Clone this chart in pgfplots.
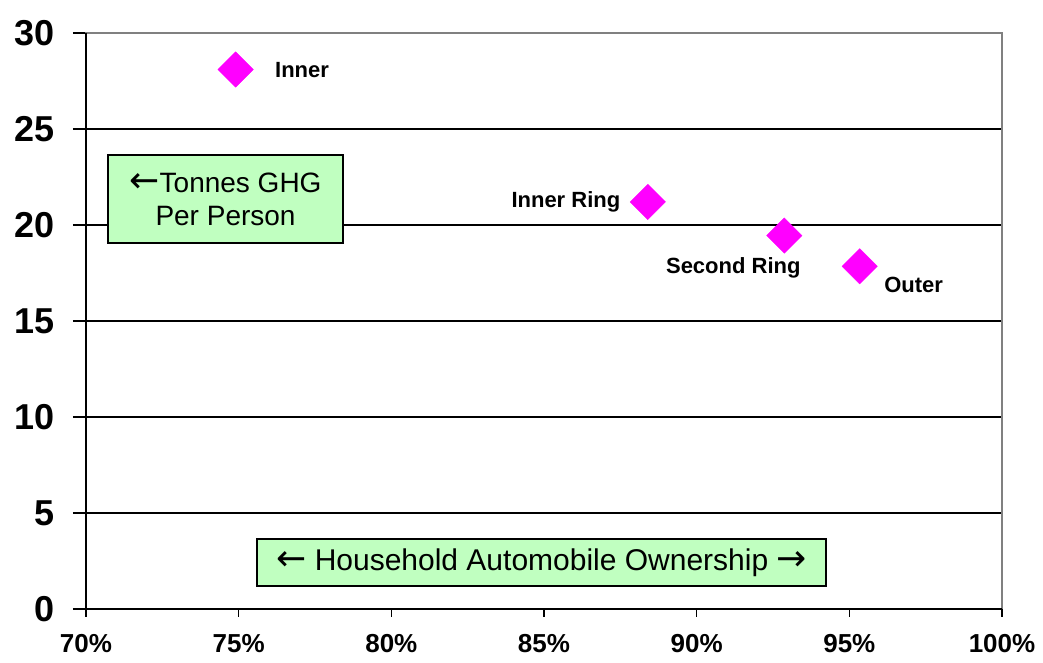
\documentclass[border=0pt]{standalone}
\usepackage{pgfplots}
\pgfplotsset{compat=1.18}
\usepackage{fontspec}
\setmainfont{Liberation Sans}
\newfontfamily\arrowfont{DejaVu Sans}
\newcommand{\la}{{\arrowfont\fontsize{36}{36}\selectfont\char"2190}}
\newcommand{\ra}{{\arrowfont\fontsize{36}{36}\selectfont\char"2192}}
\definecolor{boxgreen}{RGB}{192,255,192}
\definecolor{mag}{RGB}{255,0,255}
\begin{document}
\begin{tikzpicture}[x=1pt,y=1pt]
\begin{axis}[
  at={(86pt,53pt)}, anchor=south west,
  scale only axis, width=916pt, height=576pt,
  xmin=70, xmax=100, ymin=0, ymax=30,
  xtick={70,75,80,85,90,95,100},
  xticklabels={70\%,75\%,80\%,85\%,90\%,95\%,100\%},
  ytick={0,5,10,15,20,25,30},
  tick align=outside,
  major tick length=13pt,
  axis line style={draw=gray, line width=1.2pt},
  ymajorgrids, major grid style={black, line width=1.2pt},
  x tick style={draw=none},
  y tick style={black, line width=1.2pt},
  xtick pos=bottom, ytick pos=left,
  /pgf/number format/assume math mode=true,
  yticklabel style={font=\fontsize{36}{36}\selectfont\bfseries, xshift=-15pt},
  xticklabel style={font=\fontsize{26}{26}\selectfont\bfseries, yshift=-9pt},
  clip=false,
]
\addplot[only marks, mark=square*, mark size=12.5pt, mark options={rotate=45, fill=mag, draw=mag}]
  coordinates {(74.9,28.1) (88.4,21.2) (92.87,19.45) (95.34,17.85)};
\draw[black, line width=1.2pt] (rel axis cs:0,0) -- (rel axis cs:0,1);
\draw[black, line width=2.5pt] (rel axis cs:0,0) -- (rel axis cs:1,0);
\pgfplotsinvokeforeach{70,75,80,85,90,95,100}{
  \draw[black, line width=1.2pt] (axis cs:#1,0) -- ([yshift=-8pt]axis cs:#1,0);
}
\node[font=\fontsize{22}{22}\selectfont\bfseries, anchor=west] at (axis cs:74.9,28.1) [xshift=36pt, yshift=-1pt] {Inner};
\node[font=\fontsize{22}{22}\selectfont\bfseries, anchor=east] at (axis cs:88.4,21.2) [xshift=-24pt] {Inner Ring};
\node[font=\fontsize{22}{22}\selectfont\bfseries, anchor=north] at (axis cs:92.87,19.45) [xshift=-51pt, yshift=-18pt] {Second Ring};
\node[font=\fontsize{22}{22}\selectfont\bfseries, anchor=north west] at (axis cs:95.34,17.85) [xshift=21pt, yshift=-7pt] {Outer};
\node[draw=black, line width=1.2pt, fill=boxgreen, minimum width=235pt, minimum height=88pt, align=center, inner sep=0pt,
  font=\fontsize{28}{33}\selectfont] at (axis cs:74.57,21.35) {\la Tonnes GHG\\Per Person};
\node[draw=black, line width=1.2pt, fill=boxgreen, minimum width=569pt, minimum height=47pt, inner sep=0pt,
  font=\fontsize{30}{30}\selectfont] at (axis cs:84.92,2.42) {\la{} Household Automobile Ownership \ra};
\end{axis}
\pgfresetboundingbox
\path (0,0) rectangle (1043pt,662pt);
\end{tikzpicture}
\end{document}
